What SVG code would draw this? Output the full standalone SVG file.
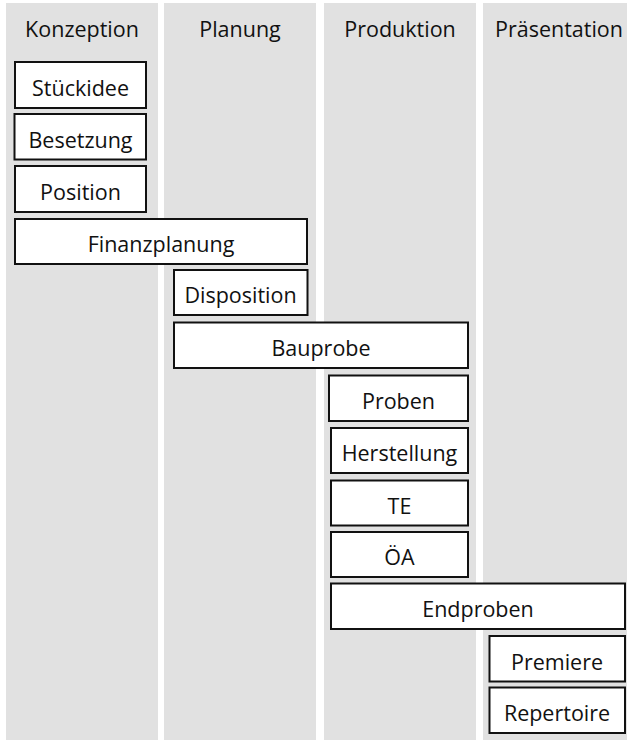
<svg xmlns="http://www.w3.org/2000/svg" width="627" height="741" viewBox="0 0 627 741">
<style>
.col{fill:#e1e1e1}
.box{fill:#fff;stroke:#111;stroke-width:2}
text{font-family:"Open Sans",Lato,sans-serif;font-size:21.5px;fill:#111;text-anchor:middle}
</style>
<rect x="0" y="0" width="627" height="741" fill="#fff"/>
<g id="lanes">
<rect class="col" x="6" y="3" width="152" height="737"/>
<rect class="col" x="164" y="3" width="152" height="737"/>
<rect class="col" x="324" y="3" width="152" height="737"/>
<rect class="col" x="483" y="3" width="152" height="737"/>
<text x="82" y="36.5">Konzeption</text>
<text x="240" y="36.5">Planung</text>
<text x="400" y="36.5">Produktion</text>
<text x="559" y="36.5">Präsentation</text>
</g>
<g id="connectors"></g>
<g id="stueckidee"><rect class="box" x="15" y="62" width="131" height="46"/><text x="80.5" y="95.5">Stückidee</text></g>
<g id="besetzung"><rect class="box" x="14.5" y="114" width="131.5" height="45.5"/><text x="80.5" y="147.5">Besetzung</text></g>
<g id="position"><rect class="box" x="15" y="166" width="131" height="46"/><text x="80.5" y="199.5">Position</text></g>
<g id="finanzplanung"><rect class="box" x="15" y="219" width="292" height="45"/><text x="161" y="252.3">Finanzplanung</text></g>
<g id="disposition"><rect class="box" x="174" y="270" width="133.5" height="45"/><text x="240.5" y="303.3">Disposition</text></g>
<g id="bauprobe"><rect class="box" x="174" y="322.5" width="294" height="45.5"/><text x="321" y="356">Bauprobe</text></g>
<g id="proben"><rect class="box" x="329" y="375.5" width="139" height="45.5"/><text x="398.5" y="409">Proben</text></g>
<g id="herstellung"><rect class="box" x="331" y="428" width="137" height="45"/><text x="399.5" y="461.3">Herstellung</text></g>
<g id="te"><rect class="box" x="331" y="480.5" width="137" height="45"/><text x="399.5" y="513.8">TE</text></g>
<g id="oea"><rect class="box" x="331" y="532" width="137" height="45"/><text x="399.5" y="565.3">ÖA</text></g>
<g id="endproben"><rect class="box" x="331" y="583.5" width="294" height="45.5"/><text x="478" y="617">Endproben</text></g>
<g id="premiere"><rect class="box" x="489.5" y="636" width="135.5" height="45.5"/><text x="557" y="669.5">Premiere</text></g>
<g id="repertoire"><rect class="box" x="489.5" y="687.5" width="135.5" height="45.5"/><text x="557" y="721">Repertoire</text></g>
</svg>
